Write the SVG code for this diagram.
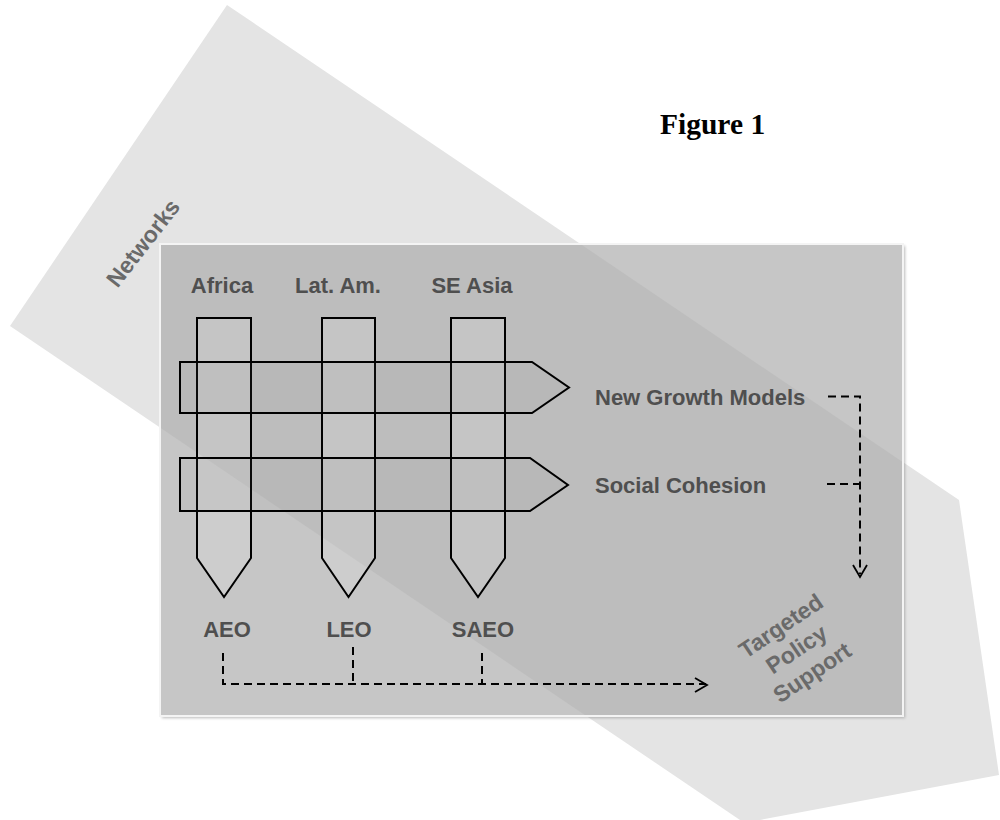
<svg xmlns="http://www.w3.org/2000/svg" width="1000" height="820" viewBox="0 0 1000 820">
  <style>
    .label { font-family: "Liberation Sans", Arial, sans-serif; font-weight: bold; font-size: 22px; fill: #4f4f4f; }
    .rot { font-family: "Liberation Sans", Arial, sans-serif; font-weight: bold; font-size: 23px; fill: #6a6a6a; }
    .title { font-family: "Liberation Serif", "Times New Roman", serif; font-weight: bold; font-size: 29.5px; fill: #000; }
    .varrow { fill: #ffffff; fill-opacity: 0.13; stroke: #000; stroke-width: 2; stroke-linejoin: miter; }
    .harrow { fill: #808080; fill-opacity: 0.08; stroke: #000; stroke-width: 2; stroke-linejoin: miter; }
    .dash { fill: none; stroke: #000; stroke-width: 2; stroke-dasharray: 8 5; }
    .head { fill: none; stroke: #000; stroke-width: 1.8; }
  </style>
  <defs>
    <filter id="soft" x="-5%" y="-5%" width="110%" height="110%">
      <feGaussianBlur stdDeviation="1.5"/>
    </filter>
    <clipPath id="panelClip">
      <rect x="160" y="244" width="743" height="472"/>
    </clipPath>
    <polygon id="bandShape" points="227,5 959,500 999,775 760,820 740,820 10,326"/>
  </defs>

  <rect width="1000" height="820" fill="#ffffff"/>

  <!-- Networks band -->
  <g id="networks">
    <use href="#bandShape" fill="#e4e4e4"/>
    <text class="rot" transform="translate(143,243) rotate(-52)" text-anchor="middle" y="8">Networks</text>
  </g>

  <!-- Panel -->
  <g id="panel">
    <rect x="162" y="246" width="743" height="472" fill="#8c8c8c" opacity="0.6" filter="url(#soft)"/>
    <rect x="160" y="244" width="743" height="472" fill="#c6c6c6"/>
    <use href="#bandShape" fill="#bdbdbd" clip-path="url(#panelClip)"/>
    <rect x="160" y="244" width="743" height="472" fill="none" stroke="#f4f4f4" stroke-width="2"/>
  </g>

  <g id="title">
    <text class="title" x="660" y="134">Figure 1</text>
  </g>

  <!-- Regional columns -->
  <g id="africa">
    <polygon class="varrow" points="197,318 251,318 251,558 224,597 197,558"/>
    <text class="label" x="222" y="293" text-anchor="middle">Africa</text>
    <text class="label" x="227" y="637" text-anchor="middle">AEO</text>
  </g>
  <g id="latam">
    <polygon class="varrow" points="322,318 375,318 375,558 348.5,597 322,558"/>
    <text class="label" x="338" y="293" text-anchor="middle">Lat. Am.</text>
    <text class="label" x="349" y="637" text-anchor="middle">LEO</text>
  </g>
  <g id="seasia">
    <polygon class="varrow" points="451,318 505,318 505,558 478,597 451,558"/>
    <text class="label" x="472" y="293" text-anchor="middle">SE Asia</text>
    <text class="label" x="483" y="637" text-anchor="middle">SAEO</text>
  </g>

  <!-- Thematic rows -->
  <g id="growth">
    <polygon class="harrow" points="180,362 532,362 569,387.5 532,413 180,413"/>
    <text class="label" x="595" y="405">New Growth Models</text>
  </g>
  <g id="cohesion">
    <polygon class="harrow" points="180,458 530,458 568,485 530,511 180,511"/>
    <text class="label" x="595" y="493">Social Cohesion</text>
  </g>

  <g id="policy">
    <g transform="translate(797,650) rotate(-34)">
      <text class="rot" text-anchor="middle" y="-21">Targeted</text>
      <text class="rot" text-anchor="middle" y="7">Policy</text>
      <text class="rot" text-anchor="middle" y="35">Support</text>
    </g>
  </g>

  <!-- Connectors -->
  <g id="connectors">
    <path class="dash" d="M223,653 V684 H706"/>
    <path class="dash" d="M353,647 V684"/>
    <path class="dash" d="M482,653 V684"/>
    <polyline class="head" points="695,678 707,685 695,692"/>

    <path class="dash" d="M828,396.5 H860 V574"/>
    <path class="dash" d="M827,484 H860"/>
    <polyline class="head" points="853,565 860,577 867,565"/>
  </g>
</svg>
